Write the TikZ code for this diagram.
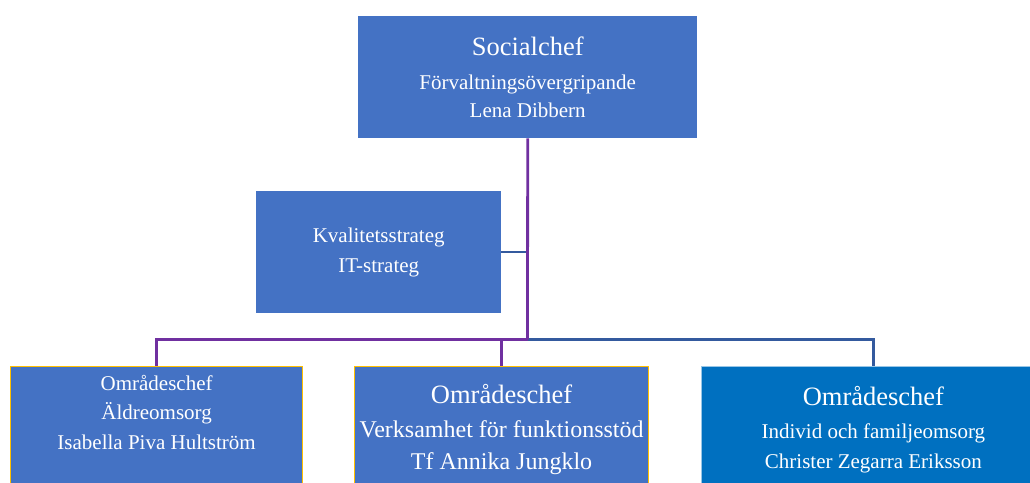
\documentclass[tikz,border=0pt]{standalone}
\usepackage{fontspec}
\setmainfont{Liberation Serif}
\usetikzlibrary{positioning}

\definecolor{boxblue}{HTML}{4472C4}
\definecolor{boxdark}{HTML}{0070C0}
\definecolor{linepurple}{HTML}{7030A0}
\definecolor{lineblue}{HTML}{345A9E}
\definecolor{boxgold}{HTML}{FFC000}

\begin{document}
\begin{tikzpicture}[
    x=1pt, y=-1pt,
    % Boxes
    unit/.style={rectangle, fill=boxblue, inner sep=0pt, text=white, align=center, anchor=north west},
    area/.style={unit, draw=boxgold, line width=1.2pt, minimum height=140pt},
    % Texts
    small/.style={font=\fontsize{21}{29.5}\selectfont},
    areatext/.style={inner sep=0pt, text=white, align=center, anchor=north},
    % Connectors
    purple line/.style={draw=linepurple, line width=2.8pt},
    blue line/.style={draw=lineblue, line width=2.4pt}
]
\path[use as bounding box, clip] (0,0) rectangle (1030,482);

% Top
\node[unit, small, minimum width=339pt, minimum height=122pt] (chef) at (358,16)
    {{\fontsize{26.5}{33}\selectfont Socialchef}\\[4pt]
     Förvaltningsövergripande\\[-1.5pt]
     Lena Dibbern};

% Staff
\node[unit, font=\fontsize{21}{30}\selectfont, minimum width=245pt, minimum height=122pt] (kval) at (256,191)
    {Kvalitetsstrateg\\IT-strateg};

% Area managers
\node[area, minimum width=292pt] (omrA) at (10,366) {};
\node[areatext, small, below=8.7pt of omrA.north] (omrAtext)
    {Områdeschef\\Äldreomsorg\\Isabella Piva Hultström};

\node[area, minimum width=294pt] (omrB) at (354,366) {};
\node[areatext, font=\fontsize{24}{32}\selectfont, below=18pt of omrB.north] (omrBtext)
    {{\fontsize{26.5}{33}\selectfont Områdeschef}\\[2pt]
     Verksamhet för funktionsstöd\\
     Tf Annika Jungklo};

\node[unit, fill=boxdark, draw=boxdark!40, line width=0.8pt, minimum width=344pt, minimum height=140pt] (omrC) at (701,366) {};
\node[areatext, font=\fontsize{21}{30}\selectfont, below=20pt of omrC.north] (omrCtext)
    {{\fontsize{26.5}{33}\selectfont Områdeschef}\\[3pt]
     Individ och familjeomsorg\\
     Christer Zegarra Eriksson};

% Connectors
\coordinate (bus) at (527.5,339.5);
\draw[blue line] (kval.east) -- (kval.east -| bus);
\draw[blue line] (bus) -| (omrC.north);
\draw[purple line] (chef.south) -- (bus);
\draw[purple line] (bus) -| (omrA.north);
\draw[purple line] (bus -| omrB.north) -- (omrB.north);

\end{tikzpicture}
\end{document}
